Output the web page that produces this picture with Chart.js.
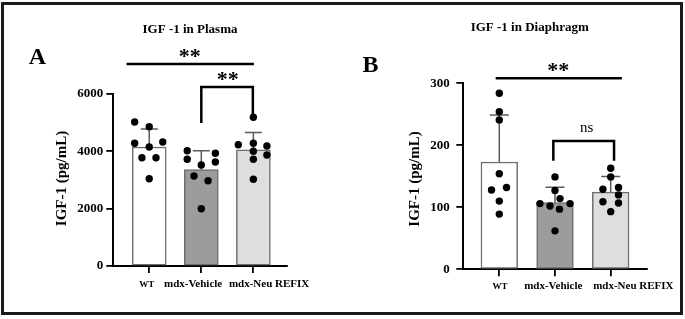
<!DOCTYPE html>
<html>
<head>
<meta charset="utf-8">
<script src="https://cdn.jsdelivr.net/npm/chart.js@4.4.1/dist/chart.umd.min.js"></script>
<style>
  body { margin: 0; background: #fff; }
  #frame { position: absolute; left: 1px; top: 2px; width: 682px; height: 313px; box-sizing: border-box; border: 3px solid #1a1a1a; }
  canvas { position: absolute; top: 0; }
  #plasma { left: 0; }
  #diaphragm { left: 340px; }
</style>
</head>
<body>
<div id="frame"></div>
<canvas id="plasma" width="340" height="319"></canvas>
<canvas id="diaphragm" width="345" height="319"></canvas>
<script>
// groups
const groups = ["WT", "mdx-Vehicle", "mdx-Neu REFIX"];

// IGF-1 in plasma (pg/mL)
const plasmaMean = [4150, 3365, 4050];
const plasmaSD = [630, 655, 610];
const plasmaPoints = [
    [5023, 4859, 4280, 4151, 4325, 3777, 3777, 3045],
    [4022, 3722, 3931, 3627, 3523, 3139, 2975, 1999],
    [5187, 4231, 4280, 4186, 4001, 3872, 3722, 3024]
];
const plasmaJitter = [
    [-0.28, 0, -0.28, 0, 0.26, -0.14, 0.13, 0],
    [-0.27, -0.27, 0.27, 0.27, 0, -0.14, 0.13, 0],
    [0, -0.29, 0, 0.26, 0, 0.26, 0, 0]
];
const plasmaTicks = [0, 2000, 4000, 6000];

// IGF-1 in diaphragm (pg/mL)
const diaMean = [173, 107.5, 124.5];
const diaSD = [76, 25, 25];
const diaPoints = [
    [284, 254, 241, 154, 128, 132, 110, 89],
    [149, 127, 114, 106, 102, 106, 97, 62],
    [163, 149, 129, 132, 120, 109, 107, 93]
];
const diaJitter = [
    [0, 0, 0, 0, -0.14, 0.13, 0, 0],
    [0, 0, 0.09, -0.27, -0.09, 0.27, 0.08, 0],
    [0, 0, -0.14, 0.14, 0.14, -0.14, 0.14, 0]
];
const diaTicks = [0, 100, 200, 300];

const barColors = ["#ffffff", "#9c9c9c", "#dedede"];
const SERIF = "'Liberation Serif', 'Times New Roman', serif";

function centerText(ctx, txt, cx, cy, font, rot) {
    ctx.save();
    ctx.font = font;
    ctx.fillStyle = "#000";
    ctx.textAlign = "center";
    ctx.textBaseline = "alphabetic";
    const m = ctx.measureText(txt);
    const off = (m.actualBoundingBoxAscent - m.actualBoundingBoxDescent) / 2;
    ctx.translate(cx, cy);
    if (rot) ctx.rotate(rot);
    ctx.fillText(txt, 0, off);
    ctx.restore();
}

function makePanel(id, p) {
    const pts = [];
    p.points.forEach((arr, g) => arr.forEach((v, k) => pts.push({x: g + p.jitter[g][k], y: v})));

    const extras = {
        id: "extras",
        afterDatasetDraw(chart, args) {
            if (args.index !== 1) return;
            const {ctx, scales: {x, y}} = chart;
            ctx.save();
            ctx.strokeStyle = "#5a5a5a";
            ctx.lineWidth = 1.5;
            p.mean.forEach((m, i) => {
                const px = x.getPixelForValue(i);
                const y0 = y.getPixelForValue(m);
                const y1 = y.getPixelForValue(m + p.sd[i]);
                ctx.beginPath();
                ctx.moveTo(px, y0); ctx.lineTo(px, y1);
                ctx.moveTo(px - p.cap / 2, y1); ctx.lineTo(px + p.cap / 2, y1);
                ctx.stroke();
            });
            ctx.restore();
        },
        afterDraw(chart) {
            const {ctx, scales: {x, y}} = chart;
            const X = v => x.getPixelForValue(v), Y = v => y.getPixelForValue(v);
            ctx.save();
            ctx.strokeStyle = "#000";
            ctx.lineWidth = 2.5;
            p.sig.forEach(s => {
                ctx.beginPath();
                if (s.legs) {
                    ctx.moveTo(X(s.x0), Y(s.legs[0]));
                    ctx.lineTo(X(s.x0), Y(s.y));
                    ctx.lineTo(X(s.x1), Y(s.y));
                    ctx.lineTo(X(s.x1), Y(s.legs[1]));
                } else {
                    ctx.moveTo(X(s.x0), Y(s.y));
                    ctx.lineTo(X(s.x1), Y(s.y));
                }
                ctx.stroke();
                centerText(ctx, s.label, X(s.lx), Y(s.ly), s.font);
            });
            ctx.restore();

            centerText(ctx, p.title, p.titlePos[0], p.titlePos[1], "bold 13px " + SERIF);
            centerText(ctx, p.letter, p.letterPos[0], p.letterPos[1], "bold 24px " + SERIF);
            centerText(ctx, "IGF-1 (pg/mL)", p.yTitlePos[0], p.yTitlePos[1], "bold 15px " + SERIF, -Math.PI / 2);
            groups.forEach((g, i) => {
                const f = i === 0 ? "bold 9px " : "bold 11px ";
                centerText(ctx, g, X(i) + p.labelShift[i], p.labelY, f + SERIF);
            });
        }
    };

    return new Chart(document.getElementById(id), {
        type: "bar",
        data: {
            datasets: [{
                type: "line",
                data: pts,
                showLine: false,
                pointRadius: 3.7,
                pointHoverRadius: 3.7,
                pointBackgroundColor: "#000",
                pointBorderWidth: 0
            }, {
                type: "bar",
                data: p.mean.map((m, i) => ({x: i, y: m})),
                backgroundColor: barColors,
                borderColor: "#6e6e6e",
                borderWidth: 1.5,
                borderSkipped: false,
                barThickness: p.barW
            }]
        },
        options: {
            responsive: false,
            animation: false,
            layout: {padding: p.pad},
            plugins: {legend: {display: false}, tooltip: {enabled: false}},
            scales: {
                x: {
                    type: "linear",
                    min: p.xMin, max: p.xMax,
                    offset: false,
                    afterBuildTicks: s => { s.ticks = [0, 1, 2].map(v => ({value: v})); },
                    afterFit: s => { s.height = 10; },
                    ticks: {callback: () => ""},
                    grid: {offset: false, drawOnChartArea: false, tickLength: 7, color: "#000", lineWidth: 1.8},
                    border: {color: "#000", width: 2}
                },
                y: {
                    min: 0, max: p.ticks[p.ticks.length - 1],
                    afterBuildTicks: s => { s.ticks = p.ticks.map(v => ({value: v})); },
                    afterFit: s => { s.width = p.yW; },
                    ticks: {
                        color: "#000", padding: p.tickPad,
                        font: {family: SERIF, size: 13, weight: "bold"},
                        callback: v => String(v)
                    },
                    grid: {drawOnChartArea: false, tickLength: 7, color: "#000", lineWidth: 1.8},
                    border: {color: "#000", width: 2}
                }
            }
        },
        plugins: [extras]
    });
}

makePanel("plasma", {
    mean: plasmaMean, sd: plasmaSD, points: plasmaPoints, jitter: plasmaJitter, ticks: plasmaTicks,
    xMin: -0.69, xMax: 2.64, barW: 34, cap: 17, yW: 113.3, tickPad: 3,
    pad: {top: 94, right: 53.3, bottom: 43, left: 0},
    title: "IGF -1 in Plasma", titlePos: [190, 28],
    letter: "A", letterPos: [37.5, 56.5],
    yTitlePos: [62.3, 178.5],
    labelShift: [-2.6, -8.2, 15.7], labelY: 283.5,
    sig: [
        {x0: -0.435, x1: 2.01, y: 7046, label: "**", lx: 0.78, ly: 7430, font: "bold 22px " + SERIF},
        {x0: 1, x1: 1.99, y: 6244, legs: [4988, 5197], label: "**", lx: 1.51, ly: 6627, font: "bold 22px " + SERIF}
    ]
});

makePanel("diaphragm", {
    mean: diaMean, sd: diaSD, points: diaPoints, jitter: diaJitter, ticks: diaTicks,
    xMin: -0.646, xMax: 2.646, barW: 36.7, cap: 19, yW: 123.3, tickPad: 6.5,
    pad: {top: 83.3, right: 38.3, bottom: 39.7, left: 0},
    title: "IGF -1 in Diaphragm", titlePos: [189.7, 28.3],
    letter: "B", letterPos: [30.5, 64],
    yTitlePos: [75.8, 179],
    labelShift: [0.7, -1.7, 22.6], labelY: 285.7,
    sig: [
        {x0: -0.065, x1: 2.2, y: 308, label: "**", lx: 1.06, ly: 325, font: "bold 22px " + SERIF},
        {x0: 0.97, x1: 2.06, y: 207, legs: [175, 175], label: "ns", lx: 1.57, ly: 227, font: "15px " + SERIF}
    ]
});
</script>
</body>
</html>
